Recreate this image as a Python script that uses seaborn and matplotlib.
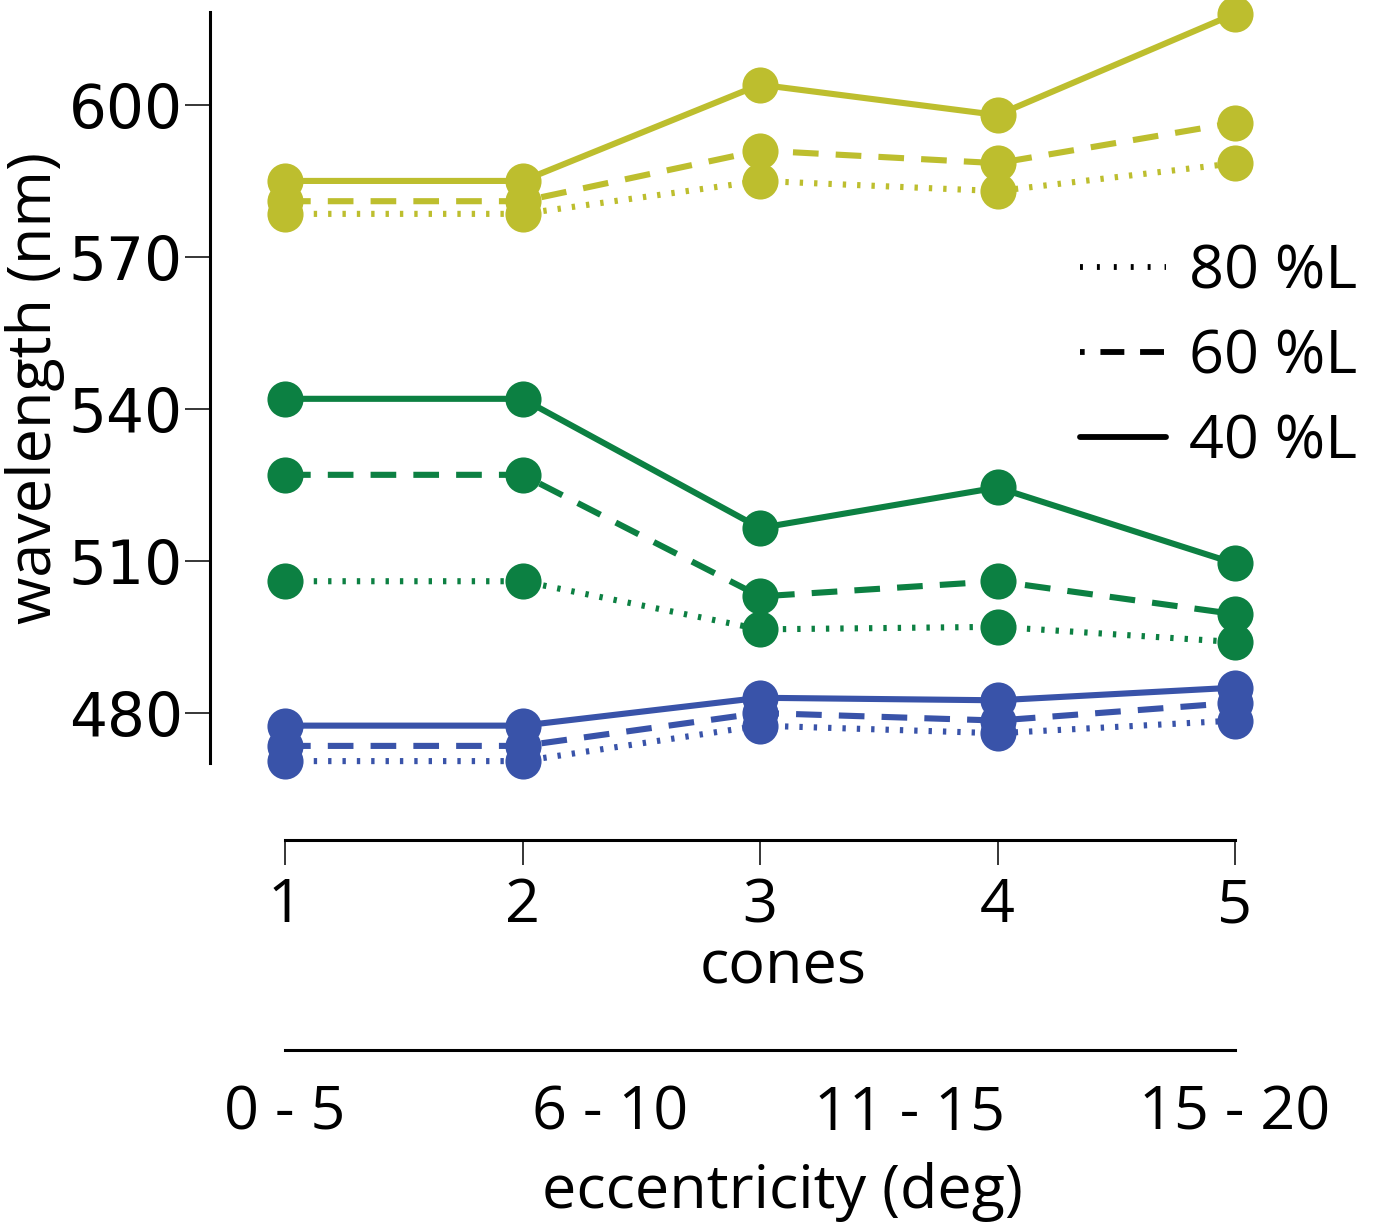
import numpy as np
import pandas as pd
import matplotlib
matplotlib.use("Agg")
import matplotlib.pyplot as plt
from matplotlib.lines import Line2D
import seaborn as sns

# cone position along the x axis and the eccentricity bands shown underneath
cones = [1, 2, 3, 4, 5]
ecc_ticks = [1, 2.37, 3.63, 5]
ecc_labels = ["0 - 5", "6 - 10", "11 - 15", "15 - 20"]
levels = ["80 %L", "60 %L", "40 %L"]
cone_types = ["L", "M", "S"]

# wavelength (nm) per cone class and lightness level
L_80 = [578.5, 578.5, 585, 583, 588.5]
L_60 = [581, 581, 591, 588.5, 596.5]
L_40 = [585, 585, 604, 598, 618]
M_80 = [506, 506, 496.5, 497, 494]
M_60 = [527, 527, 503, 506, 499.5]
M_40 = [542, 542, 516.5, 524.5, 509.5]
S_80 = [470.5, 470.5, 477.5, 476, 478.5]
S_60 = [473.5, 473.5, 480, 478.5, 482]
S_40 = [477.5, 477.5, 483, 482.5, 485]

series = {
    ("L", "80 %L"): L_80, ("L", "60 %L"): L_60, ("L", "40 %L"): L_40,
    ("M", "80 %L"): M_80, ("M", "60 %L"): M_60, ("M", "40 %L"): M_40,
    ("S", "80 %L"): S_80, ("S", "60 %L"): S_60, ("S", "40 %L"): S_40,
}
rows = []
for (ctype, lvl), vals in series.items():
    for c, v in zip(cones, vals):
        rows.append({"cone": c, "nm": v, "type": ctype, "level": lvl})
df = pd.DataFrame(rows)

palette = {"L": "#BDBE2E", "M": "#0C8042", "S": "#3953A9"}
dash_map = {"80 %L": (0.55, 1.8), "60 %L": (4.2, 2.8), "40 %L": ""}
marker_map = {"80 %L": "o", "60 %L": "o", "40 %L": "o"}

sns.set_theme(style="white")
plt.rcParams["font.family"] = ["Open Sans", "DejaVu Sans"]
plt.rcParams["text.color"] = "black"
plt.rcParams["axes.labelcolor"] = "black"

FS = 44

fig = plt.figure(figsize=(13.76, 12.32), dpi=100)
ax = fig.add_axes([0.1526, 0.3807, 0.7703, 0.6096])

sns.lineplot(data=df, x="cone", y="nm", hue="type", style="level",
             palette=palette, dashes=dash_map, markers=marker_map,
             estimator=None, errorbar=None, legend=False, ax=ax,
             linewidth=4.4, markersize=26, markeredgewidth=0, clip_on=False)

ax.set_xlim(0.684, 5.147)
ax.set_ylim(470.13, 618.35)
ax.set_xticks(cones)
ax.set_yticks([480, 510, 540, 570, 600])

for s in ["top", "right"]:
    ax.spines[s].set_visible(False)
for s in ["left", "bottom"]:
    ax.spines[s].set_linewidth(2.2)
    ax.spines[s].set_color("black")
ax.spines["bottom"].set_position(("outward", 55.4))
ax.spines["bottom"].set_bounds(1, 5)

ax.tick_params(axis="both", which="major", length=18, width=1.1, color="black",
               labelsize=FS, labelcolor="black", direction="out",
               bottom=True, left=True)
ax.tick_params(axis="x", pad=8)
ax.tick_params(axis="y", pad=1.5, labelsize=43)
for lab in ax.get_yticklabels():
    lab.set_fontfamily("DejaVu Sans")

ax.set_xlabel("cones", fontsize=FS)
ax.xaxis.set_label_coords(0.5406, -0.233)
ax.set_ylabel("wavelength (nm)", fontsize=FS)
ax.yaxis.set_label_coords(-0.137, 0.5)

# second scale: retinal eccentricity bands
sec = ax.secondary_xaxis(-287 / 751)
sec.spines["bottom"].set_linewidth(2.2)
sec.spines["bottom"].set_color("black")
sec.spines["bottom"].set_bounds(1, 5)
sec.set_xticks(ecc_ticks, labels=ecc_labels)
sec.tick_params(axis="x", length=0, pad=24, labelsize=FS, labelcolor="black")
sec.set_xlabel("eccentricity (deg)", fontsize=FS)
sec.xaxis.set_label_coords(0.5406, -0.531, transform=ax.transAxes)

handles = [
    Line2D([], [], color="black", lw=4.2, linestyle=(0, (0.5, 2.4))),
    Line2D([], [], color="black", lw=4.2, linestyle=(3.3, (4.1, 2.7))),
    Line2D([], [], color="black", lw=4.2, linestyle="-"),
]
fig.legend(handles, levels, loc="upper left", bbox_to_anchor=(0.785, 0.803),
           frameon=False, fontsize=FS, handlelength=1.4, handletextpad=0.38,
           labelspacing=0.41, borderpad=0, borderaxespad=0)

fig.savefig("out.png", dpi=100)
